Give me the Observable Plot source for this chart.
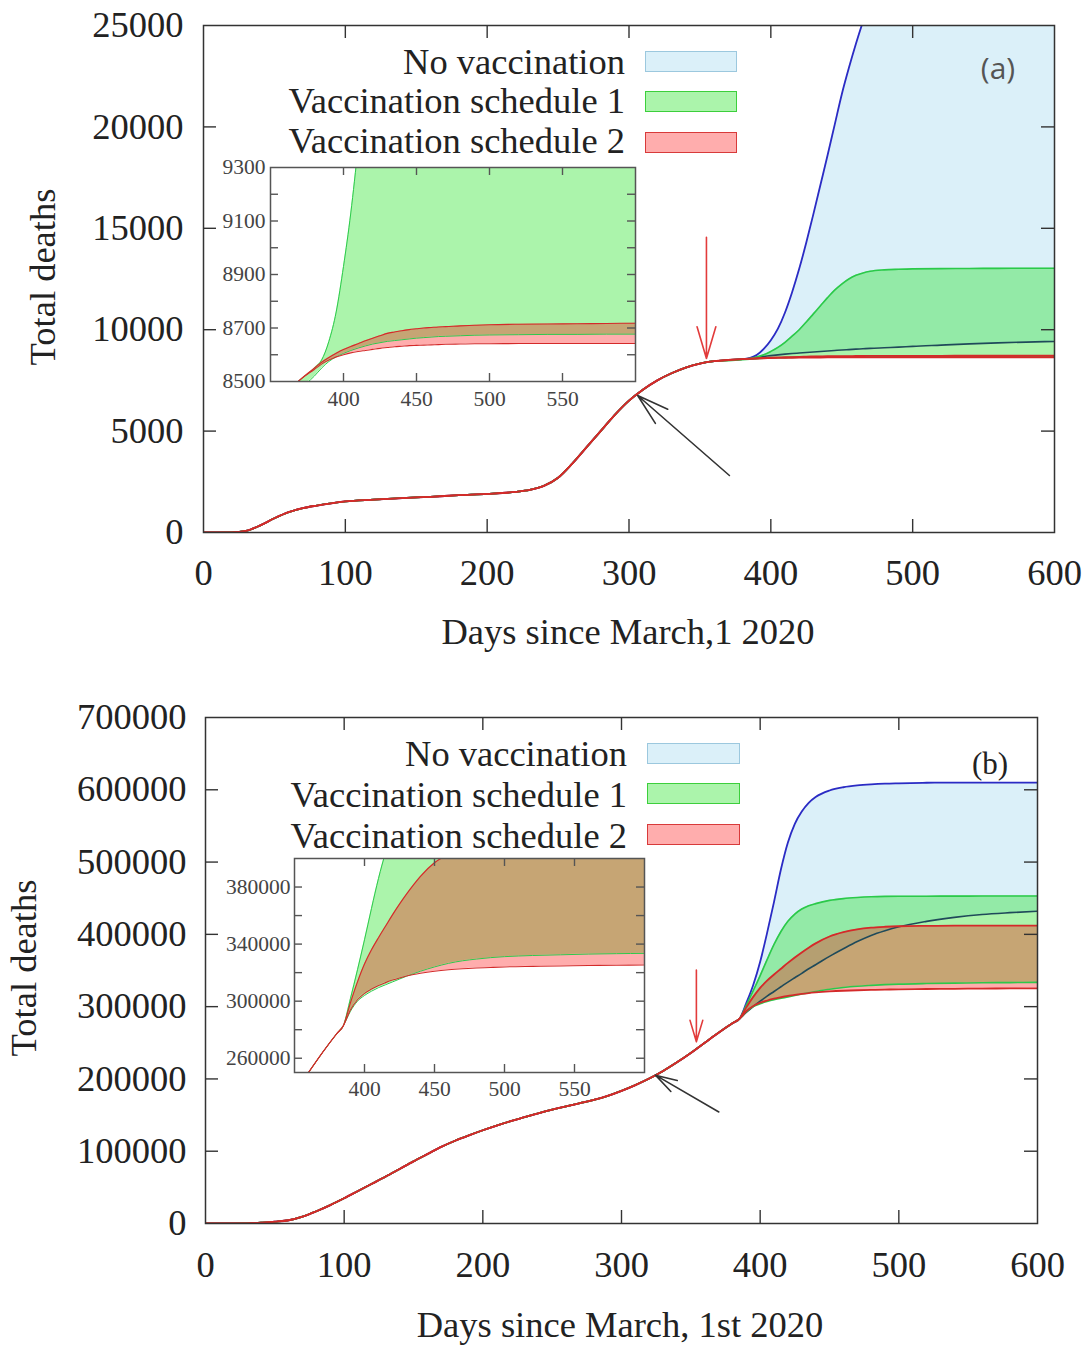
<!DOCTYPE html>
<html><head><meta charset="utf-8">
<script src="https://cdn.jsdelivr.net/npm/d3@7"></script>
<script src="https://cdn.jsdelivr.net/npm/@observablehq/plot@0.6"></script>
<style>
body{margin:0;background:#fff;}
#root{position:relative;width:1092px;height:1347px;overflow:hidden;font-family:"Liberation Serif",serif;color:#222;background:#fff;}
.abs{position:absolute;}
.txt{position:absolute;white-space:nowrap;}
.sw{position:absolute;box-sizing:border-box;}
</style></head><body><div id="root"></div>
<script>
// ---------------- DATA: panel (a) ----------------
const baseDaysA   = [0,10,20,30,40,50,60,70,80,90,100,120,140,160,180,200,220,230,240,250,260,270,280,290,300,310,320,330,340,350,360];
const baseDeathsA = [0,0,5,80,350,700,1000,1200,1330,1440,1530,1620,1700,1760,1840,1900,2000,2100,2300,2700,3400,4200,5000,5800,6500,7050,7500,7850,8130,8330,8450];
const lateDaysA   = [370,380,385,390,395,400,405,410,415,420,425,430,435,440,445,450,455,460,465,470,480,490,500,520,540,560,580,600];
const noVacUpperA = [8505,8550,8600,8750,9050,9480,10050,10850,11850,13000,14300,15700,17150,18600,20100,21600,22900,24100,25200,26200,27900,29300,30400,31800,32600,33100,33300,33400];
const noVacLowerA = [8505,8550,8590,8640,8680,8720,8760,8795,8825,8850,8875,8900,8925,8950,8975,9000,9020,9040,9060,9080,9110,9140,9180,9240,9300,9350,9390,9420];
const sched1UpperA= [8505,8550,8580,8650,8760,8930,9130,9380,9680,10000,10380,10780,11180,11580,11950,12250,12500,12680,12800,12880,12950,12980,13000,13010,13020,13025,13030,13030];
const sched1LowerA= [8475,8520,8550,8575,8592,8605,8616,8625,8633,8640,8645,8650,8653,8656,8659,8662,8664,8666,8668,8669,8671,8673,8674,8675,8676,8676,8677,8677];
const sched2UpperA= [8505,8550,8572,8590,8606,8620,8631,8641,8652,8662,8671,8680,8685,8690,8694,8697,8700,8702,8704,8705,8708,8710,8712,8714,8715,8716,8717,8718];
const sched2LowerA= [8505,8545,8565,8580,8592,8600,8607,8612,8616,8620,8624,8627,8630,8632,8634,8635,8636,8637,8638,8639,8640,8641,8641,8642,8642,8642,8642,8642];

// ---------------- DATA: panel (b) ----------------
const baseDaysB   = [0,10,20,30,40,50,60,70,80,90,100,110,120,130,140,150,160,170,180,190,200,210,220,230,240,250,260,270,280,290,300,310,320,330,340,350,360,370,380];
const baseDeathsB = [0,0,0,200,1200,2500,4500,9500,17000,25500,35000,45000,55000,65000,75500,86000,96000,106000,114500,122000,129000,135500,141500,147000,152500,157500,162000,166500,171000,176500,183500,191500,200500,211000,223000,236000,250000,264000,277000];
const lateDaysB   = [385,390,395,400,405,410,415,420,425,430,435,440,450,460,470,480,490,500,520,540,560,580,600];
const noVacUpperB = [283000,305000,330000,362000,402000,445000,490000,527000,553000,570000,582000,590000,599000,603500,606000,607500,608500,609000,609700,610000,610000,610000,610000];
const noVacLowerB = [283000,292000,300000,307500,314500,321000,327500,334000,340000,346000,352500,358000,369500,380000,390000,398500,405000,410500,418000,423500,427500,430000,432000];
const sched1UpperB= [283000,302000,322000,343000,365000,386000,404000,418000,428000,435000,439500,442500,447000,449500,451000,452000,452500,452700,452800,452900,453000,453000,453000];
const sched1LowerB= [283000,293000,300000,304000,307000,309500,311500,313500,315500,317500,319300,321000,324000,326500,328300,329500,330500,331200,332000,332500,333000,333300,333500];
const sched2UpperB= [283000,299000,313500,326000,336000,344500,352500,360500,368000,375000,381500,387500,397000,403000,407000,409300,410500,411200,411700,412000,412000,412000,412000];
const sched2LowerB= [283000,294000,301000,305500,308500,311000,313000,314800,316300,317600,318700,319600,321000,322000,322700,323200,323600,324000,324400,324700,325000,325200,325300];

// ---------------- annotations (arrows) ----------------
const redArrowA   = [{x1:354.6, y1:14560, x2:354.6, y2:8580}];
const blackArrowA = [{x1:370.8, y1:2811, x2:306.1, y2:6755}];
const redArrowB   = [{x1:354, y1:350700, x2:354, y2:251300}];
const blackArrowB = [{x1:370.2, y1:154300, x2:324.5, y2:205200}];

// ---------------- ticks ----------------
const xTicksMain = [100,200,300,400,500];
const xLabelsMain = [0,100,200,300,400,500,600];
const yTicksA = [5000,10000,15000,20000];
const yLabelsA = [0,5000,10000,15000,20000,25000];
const yTicksB = [100000,200000,300000,400000,500000,600000];
const yLabelsB = [0,100000,200000,300000,400000,500000,600000,700000];
const xTicksInset = [400,450,500,550];
const yTicksInsetA = [8600,8700,8800,8900,9000,9100,9200];
const yLabelsInsetA = [8500,8700,8900,9100,9300];
const yTicksInsetB = [260000,280000,300000,320000,340000,360000,380000];
const yLabelsInsetB = [260000,300000,340000,380000];

const legendLabels = ["No vaccination","Vaccination schedule 1","Vaccination schedule 2"];

// ---------------- build tables ----------------
const keys = ["nvU","nvL","s1U","s1L","s2U","s2L"];
function buildRows(baseDays, baseDeaths, lateDays, late) {
  const rows = baseDays.map((day, i) => { const r = {day}; keys.forEach(k => r[k] = baseDeaths[i]); return r; });
  lateDays.forEach((day, i) => { const r = {day}; keys.forEach(k => r[k] = late[k][i]); rows.push(r); });
  return rows;
}
const rowsA = buildRows(baseDaysA, baseDeathsA, lateDaysA, {nvU:noVacUpperA, nvL:noVacLowerA, s1U:sched1UpperA, s1L:sched1LowerA, s2U:sched2UpperA, s2L:sched2LowerA});
const rowsB = buildRows(baseDaysB, baseDeathsB, lateDaysB, {nvU:noVacUpperB, nvL:noVacLowerB, s1U:sched1UpperB, s1L:sched1LowerB, s2U:sched2UpperB, s2L:sched2LowerB});

// ---------------- styles ----------------
const FILL = {nv:"#87ceeb", s1:"#00dd00", s2:"#ff0000"};
const FOP  = {nv:0.30, s1:0.33, s2:0.32};
const LINE = {nvU:"#2b2bc4", nvL:"#1f4a5a", s1:"#2bc94a", s2:"#d42a2a"};
const curve = "monotone-x";
const FONT = "'Liberation Serif', 'Times New Roman', serif";
const MAIN_FS = 36.5, INSET_FS = 21.5;

function bandMarks(rows, withNoVac, lw) {
  const m = [];
  if (withNoVac) m.push(Plot.areaY(rows, {x:"day", y1:"nvL", y2:"nvU", fill:FILL.nv, fillOpacity:FOP.nv, curve, clip:true}));
  m.push(Plot.areaY(rows, {x:"day", y1:"s1L", y2:"s1U", fill:FILL.s1, fillOpacity:FOP.s1, curve, clip:true}));
  m.push(Plot.areaY(rows, {x:"day", y1:"s2L", y2:"s2U", fill:FILL.s2, fillOpacity:FOP.s2, curve, clip:true}));
  if (withNoVac) {
    m.push(Plot.line(rows, {x:"day", y:"nvL", stroke:LINE.nvL, strokeWidth:lw*0.9, curve, clip:true}));
    m.push(Plot.line(rows, {x:"day", y:"nvU", stroke:LINE.nvU, strokeWidth:lw, curve, clip:true}));
  }
  m.push(Plot.line(rows, {x:"day", y:"s1L", stroke:LINE.s1, strokeWidth:lw*0.9, curve, clip:true}));
  m.push(Plot.line(rows, {x:"day", y:"s1U", stroke:LINE.s1, strokeWidth:lw*0.9, curve, clip:true}));
  m.push(Plot.line(rows, {x:"day", y:"s2L", stroke:LINE.s2, strokeWidth:lw, curve, clip:true}));
  m.push(Plot.line(rows, {x:"day", y:"s2U", stroke:LINE.s2, strokeWidth:lw, curve, clip:true}));
  return m;
}
function frameTicks(xt, yt, len, innerW, innerH, color) {
  return [
    Plot.tickX(xt, {x:d=>d, insetTop:innerH-len, stroke:color, strokeWidth:1.4}),
    Plot.tickX(xt, {x:d=>d, insetBottom:innerH-len, stroke:color, strokeWidth:1.4}),
    Plot.tickY(yt, {y:d=>d, insetRight:innerW-len, stroke:color, strokeWidth:1.4}),
    Plot.tickY(yt, {y:d=>d, insetLeft:innerW-len, stroke:color, strokeWidth:1.4})
  ];
}
const fmt = d => String(d);

// ---------------- plots ----------------
function mainPlot(cfg) {
  const innerW = 1092 - cfg.ml - cfg.mr, innerH = cfg.h - cfg.mt - cfg.mb;
  return Plot.plot({
    width:1092, height:cfg.h, marginLeft:cfg.ml, marginRight:cfg.mr, marginTop:cfg.mt, marginBottom:cfg.mb,
    x:{domain:[0,600]}, y:{domain:cfg.ydom},
    style:{fontFamily:FONT, background:"none", overflow:"visible"},
    marks:[
      ...bandMarks(cfg.rows, true, 1.8),
      ...frameTicks(xTicksMain, cfg.yt, 13, innerW, innerH, "#333"),
      Plot.axisX(xLabelsMain, {tickSize:0, tickPadding:cfg.xpad, fontSize:MAIN_FS, color:"#222", label:null, tickFormat:fmt}),
      Plot.axisY(cfg.yl, {tickSize:0, tickPadding:cfg.ypad, fontSize:MAIN_FS, color:"#222", label:null, tickFormat:fmt}),
      Plot.frame({stroke:"#333", strokeWidth:1.5}),
      Plot.arrow(cfg.red, {x1:"x1", y1:"y1", x2:"x2", y2:"y2", stroke:"#e23b3b", strokeWidth:1.6, headLength:cfg.head, headAngle:33, bend:0}),
      Plot.arrow(cfg.black, {x1:"x1", y1:"y1", x2:"x2", y2:"y2", stroke:"#333", strokeWidth:1.6, headLength:cfg.head, headAngle:33, bend:0})
    ]
  });
}
function insetPlot(cfg) {
  const innerW = cfg.w - cfg.ml - cfg.mr, innerH = cfg.h - cfg.mt - cfg.mb;
  return Plot.plot({
    width:cfg.w, height:cfg.h, marginLeft:cfg.ml, marginRight:cfg.mr, marginTop:cfg.mt, marginBottom:cfg.mb,
    x:{domain:[350,600]}, y:{domain:cfg.ydom},
    style:{fontFamily:FONT, background:"none", overflow:"visible"},
    marks:[
      ...bandMarks(cfg.rows, false, 1.1),
      ...frameTicks(xTicksInset, cfg.yt, 8, innerW, innerH, "#555"),
      Plot.axisX(xTicksInset, {tickSize:0, tickPadding:cfg.xpad, fontSize:INSET_FS, color:"#444", label:null, tickFormat:fmt}),
      Plot.axisY(cfg.yl, {tickSize:0, tickPadding:cfg.ypad, fontSize:INSET_FS, color:"#444", label:null, tickFormat:fmt}),
      Plot.frame({stroke:"#555", strokeWidth:1.5})
    ]
  });
}

const root = document.getElementById("root");
function addSvg(svg, left, top) {
  const d = document.createElement("div"); d.className = "abs";
  d.style.left = left + "px"; d.style.top = top + "px";
  d.appendChild(svg); root.appendChild(d);
}
addSvg(mainPlot({rows:rowsA, h:680, ml:203, mr:38, mt:25, mb:148, ydom:[0,25000], yt:yTicksA, yl:yLabelsA, xpad:27, ypad:20, red:redArrowA, black:blackArrowA, head:31}), 0, 0);
addSvg(mainPlot({rows:rowsB, h:667, ml:205, mr:55, mt:37, mb:124, ydom:[0,700000], yt:yTicksB, yl:yLabelsB, xpad:28, ypad:19, red:redArrowB, black:blackArrowB, head:21}), 0, 680);
addSvg(insetPlot({rows:rowsA, w:450, h:270, ml:70, mr:15, mt:17, mb:39, ydom:[8500,9300], yt:yTicksInsetA, yl:yLabelsInsetA, xpad:9, ypad:5}), 200, 150);
addSvg(insetPlot({rows:rowsB, w:460, h:260, ml:94, mr:16, mt:18, mb:28, ydom:[250000,400000], yt:yTicksInsetB, yl:yLabelsInsetB, xpad:8, ypad:4}), 200, 840);

// ---------------- text overlays ----------------
function addText(str, o) {
  const el = document.createElement("div"); el.className = "txt"; el.textContent = str;
  const size = o.size, fam = o.family || FONT;
  const ratio = o.ratio || 0.8375;
  el.style.fontSize = size + "px"; el.style.lineHeight = size + "px"; el.style.fontFamily = fam;
  el.style.color = o.color || "#222";
  if (o.rotate) {
    el.style.left = o.cx + "px"; el.style.top = o.cy + "px";
    el.style.transform = "translate(-50%,-50%) rotate(-90deg)";
  } else {
    el.style.top = (o.baseline - ratio * size) + "px";
    if (o.anchor === "end") el.style.right = (1092 - o.x) + "px";
    else if (o.anchor === "middle") { el.style.left = o.x + "px"; el.style.transform = "translateX(-50%)"; }
    else el.style.left = o.x + "px";
  }
  root.appendChild(el);
}
function addSwatch(left, top, w, h, fill, op, border) {
  const s = document.createElement("div"); s.className = "sw";
  s.style.left = left + "px"; s.style.top = top + "px"; s.style.width = w + "px"; s.style.height = h + "px";
  const c = d3.rgb(fill); s.style.background = `rgba(${c.r},${c.g},${c.b},${op})`;
  s.style.border = "1.5px solid " + border;
  root.appendChild(s);
}
const swFill = [FILL.nv, FILL.s1, FILL.s2], swOp = [FOP.nv, FOP.s1, FOP.s2], swBorder = ["#9cc8de", "#3ccf3c", "#d83a3a"];
const TFS = 36.5;

// panel (a)
addText("Total deaths", {size:TFS, rotate:true, cx:43, cy:277});
addText("Days since March,1 2020", {size:TFS, anchor:"middle", x:628, baseline:645});
[75, 114, 153.5].forEach((b, i) => addText(legendLabels[i], {size:TFS, anchor:"end", x:625, baseline:b}));
[51, 90.5, 132].forEach((t, i) => addSwatch(645, t, 92, 21, swFill[i], swOp[i], swBorder[i]));
addText("(a)", {size:30, anchor:"middle", x:998, baseline:80, family:"'Open Sans', sans-serif", color:"#555", ratio:0.888});

// panel (b)
addText("Total deaths", {size:TFS, rotate:true, cx:24, cy:968});
addText("Days since March, 1st 2020", {size:TFS, anchor:"middle", x:620, baseline:1338});
[767, 808, 848.5].forEach((b, i) => addText(legendLabels[i], {size:TFS, anchor:"end", x:627, baseline:b}));
[743, 783, 824].forEach((t, i) => addSwatch(647, t, 93, 21, swFill[i], swOp[i], swBorder[i]));
addText("(b)", {size:31, anchor:"middle", x:990, baseline:774, color:"#222"});
</script></body></html>
